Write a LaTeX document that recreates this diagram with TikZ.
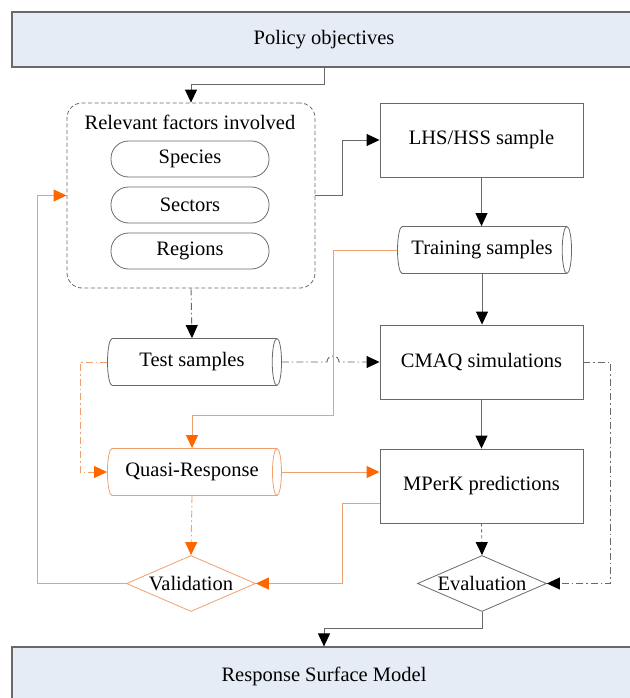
\documentclass[tikz,border=0pt]{standalone}
\usepackage{fontspec}
\setmainfont{Liberation Serif}
\usetikzlibrary{arrows.meta,shapes.geometric,calc}

\definecolor{boxgray}{RGB}{105,105,105}
\definecolor{paleblue}{RGB}{230,236,246}
\definecolor{lineorange}{RGB}{240,160,110}
\definecolor{tiporange}{RGB}{255,102,0}

\begin{document}
\begin{tikzpicture}[x=1pt,y=-1pt,
    font=\fontsize{20.5}{24}\selectfont,
    every node/.style={inner sep=0pt},
    band/.style={draw=boxgray,line width=1.2pt,fill=paleblue,minimum width=624pt,minimum height=55pt},
    box/.style={draw=boxgray,line width=0.9pt,minimum width=203pt,minimum height=74pt},
    pill/.style={draw=boxgray,line width=0.8pt,rounded corners=17.5pt,minimum width=158pt,minimum height=36pt},
    store/.style={cylinder,aspect=0.5,draw=#1,fill=white,line width=0.8pt,minimum width=47pt,minimum height=174pt},
    choice/.style={diamond,draw=#1,line width=0.8pt,shape aspect=2.3,minimum width=129pt,minimum height=56pt},
    link/.style={draw=boxgray,line width=0.9pt,-{Triangle[length=13pt,width=12pt,fill=black,color=black]}},
    olink/.style={draw=lineorange,line width=0.9pt,-{Triangle[length=13pt,width=12pt,fill=tiporange,color=tiporange]}},
    dashdot/.style={dash pattern=on 7pt off 3pt on 1.5pt off 3pt}]

  \useasboundingbox (0,0) rectangle (629,698);

  \node (policy)  at (324,39.5)  [band] {Policy objectives};

  \node (factors) at (191,195.5) [draw=boxgray,line width=0.8pt,dash pattern=on 4pt off 2.5pt,
                                  rounded corners=15pt,minimum width=248pt,minimum height=185pt] {};
  \node (title)   at (190,122)   {Relevant factors involved};
  \node (species) at (190,159)   [pill] {Species};
  \node (sectors) at (190,205)   [pill] {Sectors};
  \node (regions) at (190,251)   [pill] {Regions};

  \node (lhs)     at (481.5,140) [box] {LHS/HSS sample};
  \node (train)   at (482,250)   [store=boxgray] {Training samples};
  \node (test)    at (192,362)   [store=boxgray] {Test samples};
  \node (cmaq)    at (481.5,362) [box] {CMAQ simulations};
  \node (quasi)   at (192,472)   [store=lineorange] {Quasi-Response};
  \node (mperk)   at (481.5,486) [box] {MPerK predictions};
  \node (valid)   at (191,583.5) [choice=lineorange] {Validation};
  \node (eval)    at (482,583.5) [choice=boxgray] {Evaluation};

  \node (rsm)     at (324,676)   [band,minimum height=58pt] {Response Surface Model};

  \coordinate (bend) at (333,415);
  \coordinate (hop)  at (bend |- test.east);

  % main chain
  \draw [link] (policy.south) -- ++(0,17) -| (factors.north);
  \draw [link] (factors.east) -- ++(27,0) |- (lhs.west);
  \draw [link] (lhs.south) -- (lhs.south |- train.north);
  \draw [link] (train.south) -- (train.south |- cmaq.north);
  \draw [link] (cmaq.south) -- (mperk.north);
  \draw [link,dashed] (mperk.south) -- (eval.north);
  \draw [link] (eval.south) -- ++(0,17) -| (rsm.north);

  % test branch
  \draw [link,dashdot] (factors.south) -- (test.north);
  \draw [link,dashdot] (test.east) -- ([xshift=-6pt]hop) arc [start angle=180,end angle=360,radius=6] -- (cmaq.west);
  \draw [link,dashdot] (cmaq.east) -- ++(27,0) |- (eval.east);

  % quasi-response branch
  \draw [olink] (train.west) -| (bend) -| (quasi.north);
  \draw [olink,dashdot] (test.west) -- ++(-27,0) |- (quasi.west);
  \draw [olink] (quasi.east) -- (quasi.east -| mperk.west);
  \draw [olink,dashdot] (quasi.south) -- (valid.north);
  \draw [olink] ([yshift=-17pt]mperk.west) -- ++(-37,0) |- (valid.east);
  \draw [olink] (valid.west) -- ++(-89,0) |- (factors.west);
\end{tikzpicture}
\end{document}
